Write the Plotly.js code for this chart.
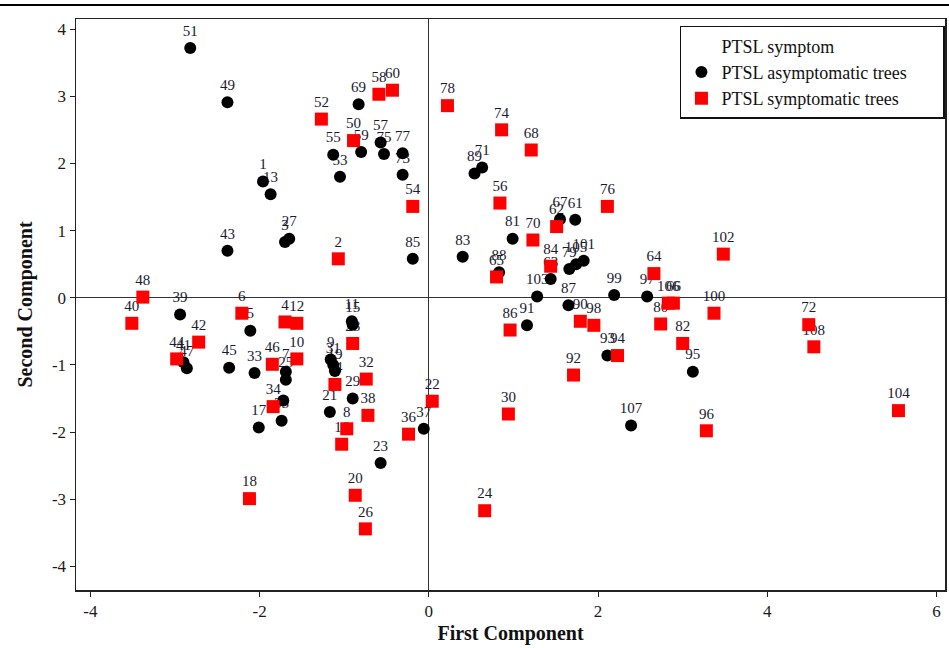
<!DOCTYPE html>
<html><head><meta charset="utf-8">
<script src="https://cdn.plot.ly/plotly-3.0.1.min.js"></script>
<style>html,body{margin:0;padding:0;background:#fff}#chart{width:949px;height:648px}</style>
</head><body><div id="chart"></div>
<script>
// PTSL asymptomatic trees (black circles)
const asymLabels = ['51','49','69','59','55','53','57','75','77','73','1','13','3','27','43','85',
  '39','41','47','5','45','33','7','25','','35','17','11','15','9','31','19','21','29','23','37',
  '71','89','67','61','81','83','88','63','103','79','105','101','87','99','97','91','93','95','107'];
const asymX = [-2.82,-2.38,-0.83,-0.80,-1.13,-1.05,-0.57,-0.53,-0.31,-0.31,-1.96,-1.87,-1.70,-1.65,-2.38,-0.19,
  -2.94,-2.90,-2.86,-2.11,-2.36,-2.06,-1.69,-1.69,-1.72,-1.74,-2.01,-0.91,-0.90,-1.16,-1.13,-1.11,-1.17,-0.90,-0.57,-0.06,
  0.63,0.54,1.55,1.73,0.99,0.40,0.83,1.44,1.28,1.66,1.74,1.83,1.65,2.19,2.58,1.16,2.11,3.12,2.39];
const asymY = [3.72,2.91,2.88,2.17,2.13,1.80,2.31,2.14,2.15,1.83,1.73,1.54,0.83,0.88,0.70,0.58,
  -0.25,-0.96,-1.05,-0.49,-1.04,-1.12,-1.10,-1.22,-1.53,-1.83,-1.93,-0.35,-0.40,-0.92,-1.00,-1.09,-1.70,-1.50,-2.46,-1.95,
  1.94,1.85,1.17,1.16,0.88,0.61,0.38,0.28,0.02,0.43,0.50,0.55,-0.11,0.04,0.02,-0.41,-0.86,-1.10,-1.90];

// PTSL symptomatic trees (red squares)
const symLabels = ['52','58','60','50','54','2','48',
  '40','42','44','6','4','12','46','10','34','18','28','14','32','38','8','16','20','26','36','22',
  '78','74','68','56','76','62','70','65','84','90','98','64','106','66','80','100','102','82','96','94','92','86','30','24','72','108','104'];
const symX = [-1.27,-0.59,-0.43,-0.89,-0.19,-1.07,-3.38,
  -3.51,-2.72,-2.98,-2.21,-1.70,-1.56,-1.85,-1.56,-1.84,-2.12,-0.90,-1.11,-0.74,-0.72,-0.97,-1.03,-0.87,-0.75,-0.24,0.04,
  0.22,0.86,1.21,0.84,2.11,1.51,1.23,0.80,1.44,1.79,1.95,2.66,2.83,2.89,2.74,3.37,3.48,3.00,3.28,2.23,1.71,0.96,0.94,0.66,4.49,4.55,5.55];
const symY = [2.66,3.03,3.09,2.34,1.36,0.58,0.01,
  -0.38,-0.66,-0.91,-0.23,-0.36,-0.38,-0.99,-0.91,-1.62,-2.99,-0.68,-1.29,-1.21,-1.75,-1.95,-2.18,-2.94,-3.44,-2.03,-1.54,
  2.86,2.50,2.20,1.41,1.36,1.06,0.86,0.31,0.47,-0.35,-0.41,0.36,-0.08,-0.08,-0.39,-0.23,0.65,-0.68,-1.98,-0.86,-1.15,-0.48,-1.73,-3.17,-0.40,-0.73,-1.68];

const legendTitle = 'PTSL symptom';
const seriesNames = ['PTSL asymptomatic trees', 'PTSL symptomatic trees'];
const xTicks = [-4,-2,0,2,4,6];
const xTickText = ['-4','-2','0','2','4','6'];
const yTicks = [-4,-3,-2,-1,0,1,2,3,4];
const yTickText = ['-4','-3','-2','-1','0','1','2','3','4'];

const serif = 'Liberation Serif, Times New Roman, serif';
const pad = '\u00a0'.repeat(7); // widens the legend box like the reference

const traces = [
  {type:'scatter', mode:'markers+text', x: asymX.concat(symX), y: asymY.concat(symY),
   text: asymLabels.concat(symLabels), textposition:'top center',
   textfont:{family:serif, size:15, color:'#1a1a30'},
   marker:{size:12, color:'rgba(0,0,0,0)'}, showlegend:false, hoverinfo:'skip'},
  {type:'scatter', mode:'markers', x:[null], y:[null], name:legendTitle,
   marker:{size:10, color:'rgba(0,0,0,0)'}},
  {type:'scatter', mode:'markers', x: asymX, y: asymY, name: seriesNames[0] + pad,
   marker:{symbol:'circle', size:12, color:'#000000'}},
  {type:'scatter', mode:'markers', x: symX, y: symY, name: seriesNames[1],
   marker:{symbol:'square', size:13, color:'#ff0000'}}
];

const layout = {
  width:949, height:648,
  margin:{l:76, r:4, t:19, b:58},
  paper_bgcolor:'#ffffff', plot_bgcolor:'#ffffff',
  showlegend:true,
  legend:{x:0.695, y:0.988, xanchor:'left', yanchor:'top',
    bgcolor:'#ffffff', bordercolor:'#111', borderwidth:1.5,
    font:{family:serif, size:18, color:'#111'}},
  xaxis:{range:[-4.17,6.10], tickvals:xTicks, ticktext:xTickText, ticks:'outside', ticklen:5, tickcolor:'#222',
    showgrid:false, zeroline:true, zerolinecolor:'#333', zerolinewidth:1,
    showline:true, mirror:true, linecolor:'#222', linewidth:1.5,
    tickfont:{family:serif, size:17, color:'#1a1a1a'},
    title:{text:'<b>First Component</b>', font:{family:serif, size:20, color:'#111'}, standoff:6}},
  yaxis:{range:[-4.35,4.15], tickvals:yTicks, ticktext:yTickText, ticks:'outside', ticklen:5, tickcolor:'#222',
    showgrid:false, zeroline:true, zerolinecolor:'#333', zerolinewidth:1,
    showline:true, mirror:true, linecolor:'#222', linewidth:1.5,
    tickfont:{family:serif, size:17, color:'#1a1a1a'},
    title:{text:'<b>Second Component</b>', font:{family:serif, size:20, color:'#111'}, standoff:14}},
  shapes:[{type:'line', xref:'paper', yref:'paper', x0:-0.1, x1:1.01, y0:1.0245, y1:1.0245,
    line:{color:'#000', width:2}}]
};

Plotly.newPlot('chart', traces, layout, {displayModeBar:false, staticPlot:true});
</script>
</body></html>
